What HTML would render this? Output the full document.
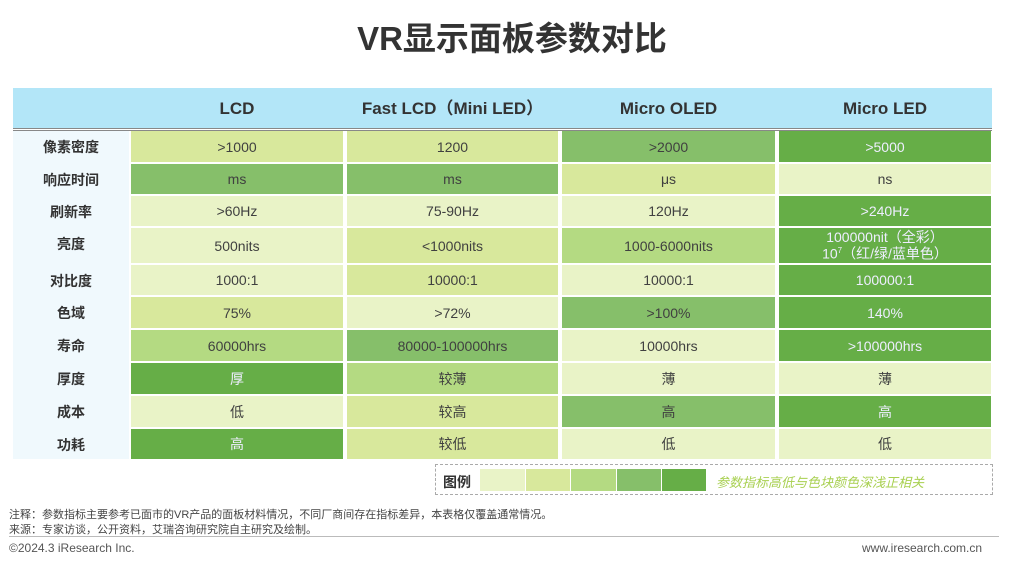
<!DOCTYPE html><html><head><meta charset="utf-8"><style>
*{margin:0;padding:0;box-sizing:border-box}
body{width:1024px;height:562px;background:#fff;position:relative;overflow:hidden;font-family:"Liberation Sans","Noto Sans CJK SC",sans-serif;color:#404040}
.a{position:absolute}
.t{left:0;width:1024px;top:12px;text-align:center;font-size:33px;font-weight:bold;color:#333}
.hd{left:13px;top:88px;width:979px;height:40px;background:#b3e6f8}
.hl{left:13px;top:128px;width:979px;height:3px;border-top:1px solid #888;border-bottom:1px solid #888}
.h{top:98px;height:22px;line-height:22px;font-size:17px;font-weight:bold;color:#333;text-align:center;white-space:nowrap;overflow:visible}
.lc{left:13px;top:131px;width:116px;height:328px;background:#f0f9fd}
.lb{left:13px;width:116px;text-align:center;font-size:14px;font-weight:bold;color:#333}
.c{display:flex;align-items:center;justify-content:center;font-size:14px;color:#404040;text-align:center;line-height:14px;white-space:nowrap}
.c1{background:#e9f3c7}.c2{background:#d8e89c}.c3{background:#b4da82}.c4{background:#86bf6a}.c5{background:#66ae47;color:#eef}
</style></head><body>
<div class="a t">VR显示面板参数对比</div>
<div class="a hd"></div><div class="a hl"></div>
<div class="a h" style="left:131px;width:212px">LCD</div>
<div class="a h" style="left:347px;width:211px">Fast LCD（Mini LED）</div>
<div class="a h" style="left:562px;width:213px">Micro OLED</div>
<div class="a h" style="left:779px;width:212px">Micro LED</div>
<div class="a lc"></div>
<div id="g"></div>
<div class="a" style="left:435px;top:464px;width:558px;height:31px;border:1.5px dashed #aaa"></div>
<div class="a" style="left:443px;top:472px;font-size:14px;font-weight:bold;color:#333">图例</div>
<div class="a c1" style="left:480px;top:469px;width:45px;height:22px"></div>
<div class="a c2" style="left:526px;top:469px;width:44px;height:22px"></div>
<div class="a c3" style="left:571px;top:469px;width:45px;height:22px"></div>
<div class="a c4" style="left:617px;top:469px;width:44px;height:22px"></div>
<div class="a c5" style="left:662px;top:469px;width:44px;height:22px"></div>
<div class="a" style="left:716px;top:472px;font-size:13px;font-style:italic;color:#a8d050">参数指标高低与色块颜色深浅正相关</div>
<div class="a" style="left:9px;top:506px;font-size:11px;color:#444">注释：参数指标主要参考已面市的VR产品的面板材料情况，不同厂商间存在指标差异，本表格仅覆盖通常情况。</div>
<div class="a" style="left:9px;top:521px;font-size:11px;color:#444">来源：专家访谈，公开资料，艾瑞咨询研究院自主研究及绘制。</div>
<div class="a" style="left:9px;top:536px;width:990px;height:1px;background:#bbb"></div>
<div class="a" style="left:9px;top:541px;font-size:12px;color:#555">©2024.3 iResearch Inc.</div>
<div class="a" style="left:862px;top:541px;font-size:12px;color:#555">www.iresearch.com.cn</div>
<script>
var rows=[[131,31],[164,30],[196,30],[228,35],[265,30],[297,31],[330,31],[363,31],[396,31],[429,30]];
var labs=["像素密度","响应时间","刷新率","亮度","对比度","色域","寿命","厚度","成本","功耗"];
var cols=[[131,212],[347,211],[562,213],[779,212]];
var d=[[[">1000",2],["1200",2],[">2000",4],[">5000",5]],
[["ms",4],["ms",4],["μs",2],["ns",1]],
[[">60Hz",1],["75-90Hz",1],["120Hz",1],[">240Hz",5]],
[["500nits",1],["<1000nits",2],["1000-6000nits",3],["100000nit（全彩）<br>10<sup style='font-size:8px'>7</sup>（红/绿/蓝单色）",5]],
[["1000:1",1],["10000:1",2],["10000:1",1],["100000:1",5]],
[["75%",2],[">72%",1],[">100%",4],["140%",5]],
[["60000hrs",3],["80000-100000hrs",4],["10000hrs",1],[">100000hrs",5]],
[["厚",5],["较薄",3],["薄",1],["薄",1]],
[["低",1],["较高",2],["高",4],["高",5]],
[["高",5],["较低",2],["低",1],["低",1]]];
var h="";
rows.forEach(function(r,i){
h+='<div class="a lb" style="top:'+(r[0]+6)+'px">'+labs[i]+'</div>';
cols.forEach(function(c,j){h+='<div class="a c c'+d[i][j][1]+'" style="left:'+c[0]+'px;top:'+r[0]+'px;width:'+c[1]+'px;height:'+r[1]+'px"><span>'+d[i][j][0]+'</span></div>';});
});
document.getElementById("g").innerHTML=h;
</script>
</body></html>
